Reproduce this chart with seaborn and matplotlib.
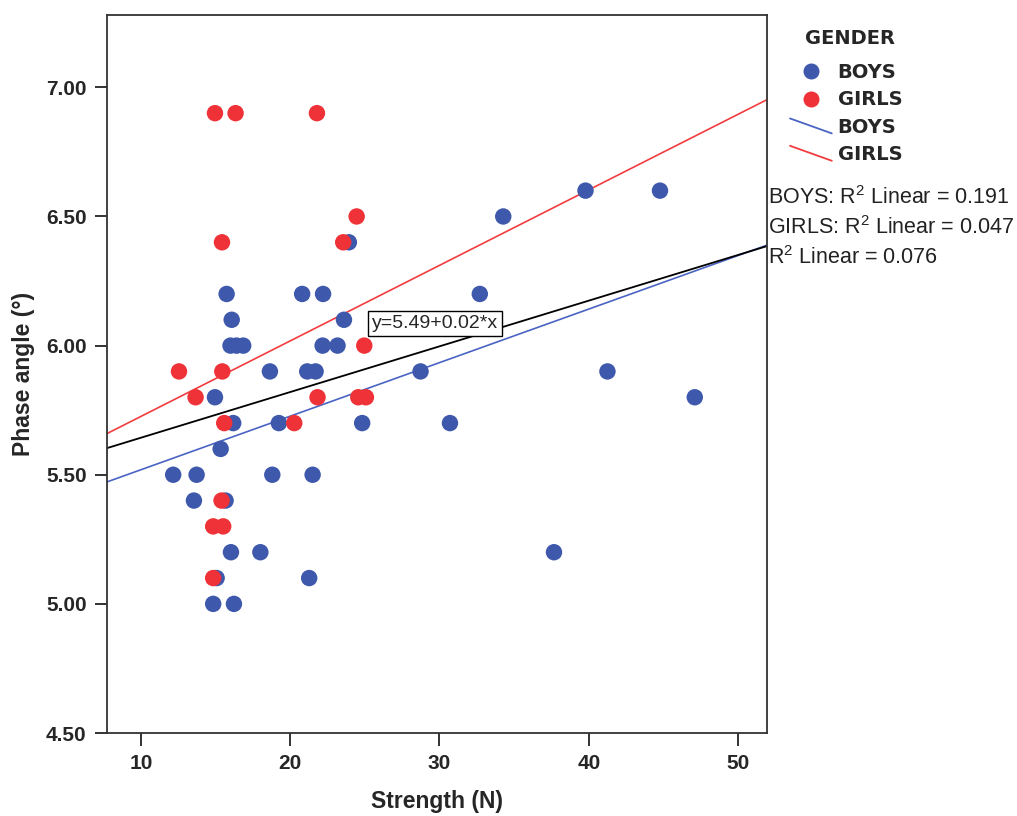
import numpy as np
import pandas as pd
import matplotlib
matplotlib.use('Agg')
import matplotlib.pyplot as plt
import seaborn as sns
from matplotlib.lines import Line2D
from matplotlib.legend_handler import HandlerBase

# Strength (N) and phase angle values
boys_strength = [15.74, 20.8, 22.2, 32.7, 23.93, 34.27, 39.78, 44.77, 16.08, 23.6,
                 16.0, 16.4, 16.85, 22.17, 23.17, 18.64, 21.14, 21.7, 28.73, 41.25,
                 14.96, 47.1, 16.18, 19.24, 24.82, 30.7, 15.34, 12.16, 13.73, 18.8,
                 21.5, 13.55, 15.67, 16.03, 18.0, 37.67, 15.07, 21.27, 14.84, 16.23]
boys_phase = [6.2, 6.2, 6.2, 6.2, 6.4, 6.5, 6.6, 6.6, 6.1, 6.1,
              6.0, 6.0, 6.0, 6.0, 6.0, 5.9, 5.9, 5.9, 5.9, 5.9,
              5.8, 5.8, 5.7, 5.7, 5.7, 5.7, 5.6, 5.5, 5.5, 5.5,
              5.5, 5.4, 5.4, 5.2, 5.2, 5.2, 5.1, 5.1, 5.0, 5.0]
girls_strength = [14.96, 16.34, 21.79, 24.45, 15.43, 23.55, 24.96, 12.55, 15.45, 13.66,
                  21.83, 24.56, 25.07, 15.58, 20.27, 15.4, 14.84, 15.51, 14.84]
girls_phase = [6.9, 6.9, 6.9, 6.5, 6.4, 6.4, 6.0, 5.9, 5.9, 5.8,
               5.8, 5.8, 5.8, 5.7, 5.7, 5.4, 5.3, 5.3, 5.1]

groups = ['BOYS', 'GIRLS']
r2_labels = ['BOYS: R$^{2}$ Linear = 0.191', 'GIRLS: R$^{2}$ Linear = 0.047', 'R$^{2}$ Linear = 0.076']
fit_label = 'y=5.49+0.02*x'
y_ticks = [4.5, 5.0, 5.5, 6.0, 6.5, 7.0]
x_ticks = [10, 20, 30, 40, 50]

df = pd.DataFrame({
    'Strength': boys_strength + girls_strength,
    'Phase': boys_phase + girls_phase,
    'Gender': ['BOYS'] * len(boys_strength) + ['GIRLS'] * len(girls_strength),
})

dot_colors = {'BOYS': '#3E58AC', 'GIRLS': '#EE3237'}
line_colors = {'BOYS': '#4A64C4', 'GIRLS': '#F23C40'}

sns.set_style('ticks')
plt.rcParams['mathtext.fontset'] = 'custom'
plt.rcParams['mathtext.rm'] = 'Liberation Sans'
plt.rcParams['mathtext.it'] = 'Liberation Sans'
plt.rcParams['mathtext.default'] = 'regular'
narrow = ['Liberation Sans Narrow', 'Liberation Sans', 'DejaVu Sans']


class DiagHandler(HandlerBase):
    # SPSS draws the fit-line legend keys as a short slanted stroke
    def create_artists(self, legend, orig_handle, xdescent, ydescent,
                       width, height, fontsize, trans):
        ln = Line2D([-xdescent, width - xdescent], [height * 1.05, -height * 0.05],
                    color=orig_handle.get_color(), lw=orig_handle.get_linewidth())
        ln.set_transform(trans)
        return [ln]


fig = plt.figure(figsize=(10.17, 8.16), dpi=100)
ax = fig.add_axes([0.1057, 0.1017, 0.6485, 0.8799])
ax.set_xlim(7.76, 51.94)
ax.set_ylim(4.5, 7.28)

sns.scatterplot(data=df, x='Strength', y='Phase', hue='Gender', hue_order=groups,
                palette=dot_colors, s=140, linewidth=0, alpha=1, legend=False,
                ax=ax, zorder=3)

for g in groups:
    sns.regplot(data=df[df['Gender'] == g], x='Strength', y='Phase', scatter=False,
                ci=None, truncate=False, color=line_colors[g],
                line_kws={'lw': 1.2, 'zorder': 2}, ax=ax)
sns.regplot(data=df, x='Strength', y='Phase', scatter=False, ci=None, truncate=False,
            color='black', line_kws={'lw': 1.3, 'zorder': 2}, ax=ax)

ax.set_xlim(7.76, 51.94)
ax.set_ylim(4.5, 7.28)
ax.set_xticks(x_ticks)
ax.set_yticks(y_ticks)
ax.set_yticklabels([f'{v:.2f}' for v in y_ticks])
for lab in ax.get_xticklabels() + ax.get_yticklabels():
    lab.set_family(narrow)
    lab.set_fontweight('bold')
    lab.set_fontsize(15)
ax.tick_params(axis='both', length=9, width=1.4, color='#333333', pad=6)
for sp in ax.spines.values():
    sp.set_linewidth(1.3)
    sp.set_color('#333333')

ax.set_xlabel('Strength (N)', family=narrow, fontweight='bold', fontsize=16.5, labelpad=12)
ax.set_ylabel('Phase angle (\u00b0)', family=narrow, fontweight='bold', fontsize=16.5, labelpad=8)

ax.text(25.47, 6.086, fit_label, fontsize=14, family='Liberation Sans', va='center', ha='left',
        zorder=5, bbox=dict(boxstyle='square,pad=0.2', fc='white', ec='black', lw=1))

handles = [
    Line2D([], [], marker='o', ls='', color=dot_colors['BOYS'], markersize=10.5),
    Line2D([], [], marker='o', ls='', color=dot_colors['GIRLS'], markersize=10.5),
    Line2D([], [], color=line_colors['BOYS'], lw=1.3),
    Line2D([], [], color=line_colors['GIRLS'], lw=1.3),
]
fig.text(805 / 1017, 1 - 38 / 816, 'GENDER', family='DejaVu Sans', fontweight='bold',
         fontsize=14, va='center', ha='left')
leg = fig.legend(handles, groups + groups, loc='upper left',
                 bbox_to_anchor=(790 / 1017, 1 - 63 / 816), frameon=False,
                 borderpad=0, borderaxespad=0, handlelength=2.15,
                 handletextpad=0.3, labelspacing=0.43,
                 prop={'family': 'DejaVu Sans', 'weight': 'bold', 'size': 14},
                 handler_map={handles[2]: DiagHandler(), handles[3]: DiagHandler()})

for i, t in enumerate(r2_labels):
    fig.text(768 / 1017, 1 - (198 + 30 * i) / 816, t, fontsize=15.5, family='Liberation Sans',
             va='center', ha='left', color='#222222')

fig.savefig('out.png', dpi=100)
